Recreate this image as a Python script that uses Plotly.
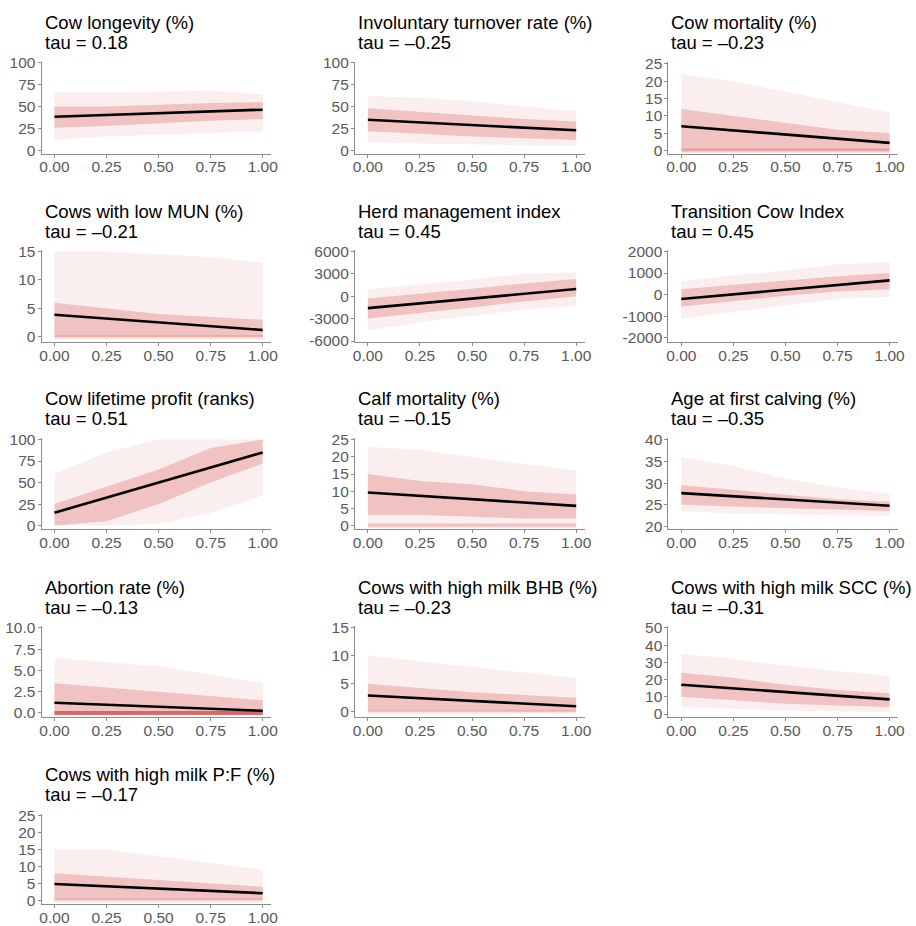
import plotly.graph_objects as go

W, H = 916, 926

titles = ["Cow longevity (%)", "Involuntary turnover rate (%)", "Cow mortality (%)",
          "Cows with low MUN (%)", "Herd management index", "Transition Cow Index",
          "Cow lifetime profit (ranks)", "Calf mortality (%)", "Age at first calving (%)",
          "Abortion rate (%)", "Cows with high milk BHB (%)", "Cows with high milk SCC (%)",
          "Cows with high milk P:F (%)"]
taus = ["0.18", "–0.25", "–0.23", "–0.21", "0.45", "0.45", "0.51", "–0.15", "–0.35",
        "–0.13", "–0.23", "–0.31", "–0.17"]

# fitted line value at x = 0 and x = 1
line_start = [38.5, 35, 7.0, 3.9, -1600, -200, 15, 9.6, 27.7, 1.2, 2.9, 17, 4.8]
line_end = [46.5, 23, 2.2, 1.2, 950, 660, 85, 5.7, 24.8, 0.25, 1.0, 8.5, 2.1]

# point-cloud envelopes read at x = 0, .25, .5, .75, 1
band_x = [0, 0.25, 0.5, 0.75, 1]
outer_hi = [[66, 66, 67, 68, 64], [62, 60, 56, 50, 45], [22, 20, 17, 14, 11],
            [15, 15, 14.5, 14, 13], [900, 1600, 2200, 3000, 3200], [600, 900, 1100, 1400, 1500],
            [60, 85, 100, 100, 100], [23, 22, 20, 18, 16], [36, 34, 31, 29, 27.5],
            [6.5, 6, 5.5, 4.5, 3.5], [10, 9, 8, 7, 6], [35, 32, 28, 25, 22], [15, 15, 13, 11, 9]]
outer_lo = [[12, 16, 18, 20, 22], [9, 8, 7, 6, 5], [0, 0, 0, 0, 0], [0, 0, 0, 0, 0],
            [-4600, -3500, -2600, -1800, -1300], [-1100, -800, -500, -200, -100],
            [0, 0, 2, 15, 35], [0, 0, 0, 0, 0], [23.5, 23, 22.8, 22.6, 22.5],
            [0, 0, 0, 0, 0], [0, 0, 0, 0, 0], [4, 3, 2, 1.5, 1], [0, 0, 0, 0, 0]]
core_hi = [[50, 50, 52, 54, 55], [48, 44, 40, 36, 33], [12, 10, 8, 6, 5], [6, 5, 4, 3.5, 3],
           [-300, 300, 1000, 1700, 2300], [250, 450, 650, 850, 1000], [25, 45, 65, 90, 100],
           [15, 13, 12, 10, 9], [29.5, 28.5, 27.3, 26.3, 25.7], [3.5, 3, 2.5, 2, 1.5],
           [5, 4.2, 3.5, 3, 2.5], [24, 21, 17, 14, 12], [8, 7, 6, 5, 4]]
core_lo = [[26, 28, 31, 34, 36], [22, 19, 16, 14, 12], [0, 0, 0, 0, 0], [0, 0, 0, 0, 0],
           [-3000, -2200, -1500, -700, 0], [-550, -300, -50, 150, 250], [0, 5, 25, 50, 72],
           [3, 3, 2.5, 2, 2], [25, 24.6, 24.2, 23.9, 23.6], [0, 0, 0, 0, 0],
           [0, 0, 0, 0, 0], [10, 8, 6, 5, 4], [0, 0, 0, 0, 0]]
# opacity of the pile-up of points at zero (0 = none)
zero_row_alpha = [0, 0, 0.35, 0.2, 0, 0, 0, 0.3, 0, 0.85, 0.15, 0, 0.15]

y_ticks = [[0, 25, 50, 75, 100], [0, 25, 50, 75, 100], [0, 5, 10, 15, 20, 25], [0, 5, 10, 15],
           [-6000, -3000, 0, 3000, 6000], [-2000, -1000, 0, 1000, 2000], [0, 25, 50, 75, 100],
           [0, 5, 10, 15, 20, 25], [20, 25, 30, 35, 40], [0, 2.5, 5, 7.5, 10], [0, 5, 10, 15],
           [0, 10, 20, 30, 40, 50], [0, 5, 10, 15, 20, 25]]
y_ticktext = [None, None, None, None, ["-6000", "-3000", "0", "3000", "6000"],
              ["-2000", "-1000", "0", "1000", "2000"], None, None, None,
              ["0.0", "2.5", "5.0", "7.5", "10.0"], None, None, None]
y_ranges = [[-3.5, 101], [-3.5, 101], [-0.9, 25.6], [-0.9, 15.2], [-6130, 6130],
            [-2190, 2050], [-4.5, 102], [-1.2, 25.6], [19.3, 40.5], [-0.47, 10.2],
            [-0.9, 15.2], [-1.7, 51], [-1.2, 25.6]]
x_ticks = [0, 0.25, 0.5, 0.75, 1]

# panel geometry in target pixels
row_top = [62, 251, 439, 628, 816]
row_bot = [154, 343, 531, 719, 907]
col_left = [43, 357, 671]
panel_w = 230


def fx(p):
    # target pixel -> paper x
    return ((p - 3.4) / 0.992) / W


def fy(p):
    # target pixel -> paper y
    return 1 - ((p - 8) / 0.9845) / H


FONT = "Arial, Liberation Sans, sans-serif"
PT = "rgba(214,84,84,{})"

fig = go.Figure()
layout = dict(width=W, height=H, margin=dict(l=0, r=0, t=0, b=0),
              paper_bgcolor="white", plot_bgcolor="white", showlegend=False,
              font=dict(family=FONT))
annotations = []

for i in range(len(titles)):
    r, c = divmod(i, 3)
    n = i + 1
    xa = "x" if n == 1 else f"x{n}"
    ya = "y" if n == 1 else f"y{n}"

    poly_x = band_x + band_x[::-1] + [band_x[0]]
    fig.add_trace(go.Scatter(x=poly_x, y=outer_hi[i] + outer_lo[i][::-1] + [outer_hi[i][0]],
                             mode="lines", fill="toself", fillcolor=PT.format(0.10),
                             line=dict(width=0), xaxis=xa, yaxis=ya, hoverinfo="skip"))
    fig.add_trace(go.Scatter(x=poly_x, y=core_hi[i] + core_lo[i][::-1] + [core_hi[i][0]],
                             mode="lines", fill="toself", fillcolor=PT.format(0.28),
                             line=dict(width=0), xaxis=xa, yaxis=ya, hoverinfo="skip"))
    if zero_row_alpha[i] > 0:
        fig.add_trace(go.Scatter(x=[0, 1], y=[0, 0], mode="lines",
                                 line=dict(color=PT.format(zero_row_alpha[i]), width=4),
                                 xaxis=xa, yaxis=ya, hoverinfo="skip"))
    fig.add_trace(go.Scatter(x=[0, 1], y=[line_start[i], line_end[i]], mode="lines",
                             line=dict(color="black", width=2.6), xaxis=xa, yaxis=ya))

    axis_common = dict(showgrid=False, zeroline=False, showline=True, linecolor="#8c8c8c",
                       linewidth=1, ticks="outside", ticklen=3, tickcolor="#8c8c8c",
                       tickfont=dict(size=15.5, color="#595959", family=FONT))
    xk = "xaxis" if n == 1 else f"xaxis{n}"
    yk = "yaxis" if n == 1 else f"yaxis{n}"
    layout[xk] = dict(axis_common, domain=[fx(col_left[c]), fx(col_left[c] + panel_w)],
                      anchor=ya, range=[-0.062, 1.04], ticklabelstandoff=-4,
                      tickvals=x_ticks, ticktext=[f"{v:.2f}" for v in x_ticks])
    yd = dict(axis_common, domain=[fy(row_bot[r]), fy(row_top[r])], anchor=xa,
              range=y_ranges[i], tickvals=y_ticks[i], ticklabelstandoff=-1)
    if y_ticktext[i] is not None:
        yd["ticktext"] = y_ticktext[i]
    layout[yk] = yd

    annotations.append(dict(text=titles[i], xref="paper", yref="paper",
                            x=fx(col_left[c] + 1), y=fy(row_top[r] - 39),
                            xanchor="left", yanchor="middle", showarrow=False,
                            font=dict(size=18.5, color="black", family=FONT)))
    annotations.append(dict(text=f"tau = {taus[i]}", xref="paper", yref="paper",
                            x=fx(col_left[c] + 1), y=fy(row_top[r] - 19),
                            xanchor="left", yanchor="middle", showarrow=False,
                            font=dict(size=18.5, color="black", family=FONT)))

layout["annotations"] = annotations
fig.update_layout(**layout)
fig.write_html("out.html", config={"displayModeBar": False},
               post_script="document.body.style.margin='0';document.body.style.overflow='hidden';")
